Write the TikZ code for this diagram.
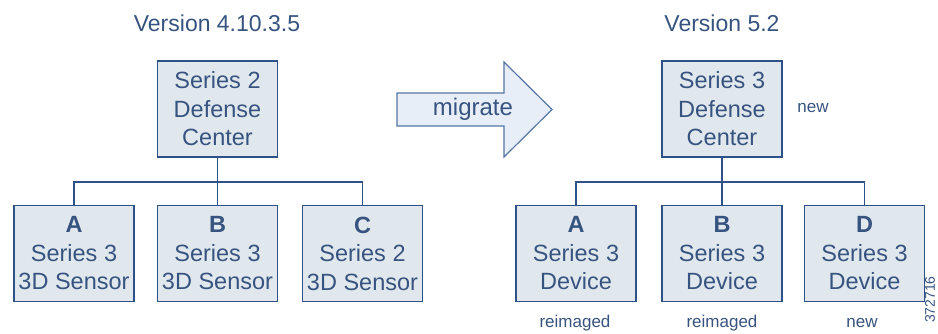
\documentclass[tikz,border=0pt]{standalone}
\usepackage{fontspec}
\setmainfont{Liberation Sans}
\definecolor{bordc}{HTML}{2E5187}
\definecolor{txtc}{HTML}{37537F}
\definecolor{boxf}{HTML}{E0E8EE}
\definecolor{arrf}{HTML}{E7EEF8}
\definecolor{arrb}{HTML}{5577A5}
\tikzset{
  unit/.style={draw=bordc, fill=boxf, line width=1.8pt, minimum width=120pt, minimum height=96pt, inner sep=0pt, align=center, text=txtc, font=\fontsize{23.5}{28.5}\selectfont},
  conn/.style={draw=bordc, line width=1.8pt},
  ttl/.style={text=txtc, font=\fontsize{23}{28}\selectfont, inner sep=0pt},
  note/.style={text=txtc, font=\fontsize{17}{20}\selectfont, inner sep=0pt},
}
\begin{document}
\begin{tikzpicture}[x=1pt,y=-1pt]
\useasboundingbox (0,0) rectangle (938,333);
% titles
\node[ttl] (t1) at (217,23) {Version 4.10.3.5};
\node[ttl] (t2) at (722,23) {Version 5.2};
% left side
\node[unit] (dcL) at (217.5,109) {Series 2\\Defense\\Center};
\node[unit] (sA) at (74,253.5) {\textbf{A}\\Series 3\\3D Sensor};
\node[unit] (sB) at (217.5,253.5) {\textbf{B}\\Series 3\\3D Sensor};
\node[unit] (sC) at (362.5,253.5) {\textbf{C}\\Series 2\\3D Sensor};
\coordinate (busL) at (217.5,182);
\draw[conn] (dcL.south) -- (sB.north);
\draw[conn] (sA.north) -- (sA.north |- busL) -- (sC.north |- busL) -- (sC.north);
% arrow
\draw[draw=arrb, fill=arrf, line width=1.2pt, line join=miter] (397,93) -- (504,93) -- (504,62) -- (552,109.5) -- (504,157) -- (504,126) -- (397,126) -- cycle;
\node[ttl, font=\fontsize{24}{28}\selectfont] (mig) at (473,109) {migrate};
% right side
\node[unit] (dcR) at (722,109) {Series 3\\Defense\\Center};
\node[unit] (dA) at (576,253.5) {\textbf{A}\\Series 3\\Device};
\node[unit] (dB) at (722,253.5) {\textbf{B}\\Series 3\\Device};
\node[unit] (dD) at (864.5,253.5) {\textbf{D}\\Series 3\\Device};
\coordinate (busR) at (722,182);
\draw[conn] (dcR.south) -- (dB.north);
\draw[conn] (dA.north) -- (dA.north |- busR) -- (dD.north |- busR) -- (dD.north);
\node[note] (n1) at (813,108) {new};
\node[note] (r1) at (575,323) {reimaged};
\node[note] (r2) at (722,323) {reimaged};
\node[note] (n2) at (862,323) {new};
\node[note, font=\fontsize{14}{16}\selectfont, rotate=90, anchor=east] (fig) at (930,276) {372716};
\end{tikzpicture}
\end{document}
